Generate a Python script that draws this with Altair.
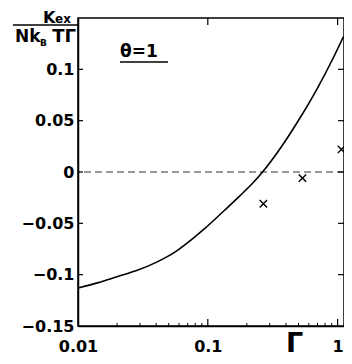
import altair as alt
import pandas as pd

# curve (Gamma vs K_ex / N k_B T Gamma)
curve_x = [0.01, 0.0141, 0.0200, 0.0283, 0.0400, 0.0565, 0.0798, 0.0949, 0.134, 0.174, 0.225,
           0.264, 0.348, 0.527, 0.695, 0.933, 1.11]
curve_y = [-0.113, -0.108, -0.102, -0.096, -0.088, -0.0775, -0.063, -0.055, -0.0375, -0.024, -0.010,
           0.0, 0.020, 0.055, 0.081, 0.112, 0.132]

# simulation points (crosses)
pts_x = [0.268, 0.536, 1.07]
pts_y = [-0.031, -0.006, 0.022]

x_ticks = [0.01, 0.1, 1]
y_ticks = [-0.15, -0.1, -0.05, 0, 0.05, 0.1]
minor_x = [0.02, 0.03, 0.04, 0.05, 0.06, 0.07, 0.08, 0.09, 0.2, 0.3, 0.4, 0.5, 0.6, 0.7, 0.8, 0.9]
major_x = [0.1, 1]
side_y = [-0.1, -0.05, 0, 0.05, 0.1]

XMIN, XMAX = 0.01, 1.12
YMIN, YMAX = -0.15, 0.15
FONT = "DejaVu Sans"

xs = alt.Scale(type="log", domain=[XMIN, XMAX], nice=False)
ys = alt.Scale(domain=[YMIN, YMAX], nice=False, zero=False)

curve_df = pd.DataFrame({"g": curve_x, "k": curve_y})
pts_df = pd.DataFrame({"g": pts_x, "k": pts_y})

base_axes = alt.Chart(curve_df).mark_line(
    color="black", strokeWidth=1.6, interpolate="monotone"
).encode(
    x=alt.X("g:Q", scale=xs, axis=alt.Axis(values=x_ticks, format="~g", title=None,
                                           labelPadding=12, labelBaseline="top",
                                           labelFlush=False)),
    y=alt.Y("k:Q", scale=ys, axis=alt.Axis(values=y_ticks, format=".2~f", title=None,
                                           labelPadding=4, labelFlush=False)),
)

zero_line = alt.Chart(pd.DataFrame({"z": [0]})).mark_rule(
    color="#333", strokeDash=[7, 4], strokeWidth=1
).encode(y=alt.Y("z:Q", scale=ys))

crosses = alt.Chart(pts_df).mark_point(
    shape="M-1,-1L1,1M1,-1L-1,1", size=55, filled=False, color="black",
    strokeWidth=1.4, opacity=1
).encode(x=alt.X("g:Q", scale=xs), y=alt.Y("k:Q", scale=ys))

minor_df = pd.DataFrame({"v": minor_x})
major_df = pd.DataFrame({"v": major_x})
side_df = pd.DataFrame({"v": side_y})

bottom_minor = alt.Chart(minor_df).mark_rule(color="black", strokeWidth=1, y2Offset=-3).encode(
    x=alt.X("v:Q", scale=xs), y=alt.datum(YMIN, scale=ys), y2=alt.datum(YMIN))
bottom_major = alt.Chart(major_df).mark_rule(color="black", strokeWidth=1.2, y2Offset=-7).encode(
    x=alt.X("v:Q", scale=xs), y=alt.datum(YMIN, scale=ys), y2=alt.datum(YMIN))
top_major = alt.Chart(major_df).mark_rule(color="black", strokeWidth=1.2, y2Offset=7).encode(
    x=alt.X("v:Q", scale=xs), y=alt.datum(YMAX, scale=ys), y2=alt.datum(YMAX))
left_ticks = alt.Chart(side_df).mark_rule(color="black", strokeWidth=1.2, x2Offset=5).encode(
    y=alt.Y("v:Q", scale=ys), x=alt.datum(XMIN, scale=xs), x2=alt.datum(XMIN))
right_ticks = alt.Chart(side_df).mark_rule(color="black", strokeWidth=1.2, x2Offset=-6).encode(
    y=alt.Y("v:Q", scale=ys), x=alt.datum(XMAX, scale=xs), x2=alt.datum(XMAX))

def label(txt, px, py, size, align="left", baseline="alphabetic"):
    return alt.Chart(pd.DataFrame({"t": [txt]})).mark_text(
        font=FONT, fontWeight="bold", fontSize=size, align=align, baseline=baseline, color="black"
    ).encode(text="t:N", x=alt.value(px), y=alt.value(py))

k_lab = label("K", -35, 4.5, 16)
ex_lab = label("ex", -23, 4.5, 12)
nk_lab = label("Nk", -63, 24, 17)
b_lab = label("B", -38, 28, 9)
tg_lab = label("TΓ", -2, 24, 18, align="right")
theta_lab = label("θ=1", 42, 39, 17)
gamma_lab = label("Γ", 208, 334, 27)

frac_line = alt.Chart(pd.DataFrame({"a": [0]})).mark_rule(color="black", strokeWidth=1.5).encode(
    x=alt.value(-65), x2=alt.value(0), y=alt.value(7))
theta_line = alt.Chart(pd.DataFrame({"a": [0]})).mark_rule(color="black", strokeWidth=1.5).encode(
    x=alt.value(42), x2=alt.value(90), y=alt.value(44))

chart = alt.layer(
    zero_line, base_axes, crosses, bottom_minor, bottom_major, top_major, left_ticks, right_ticks,
    k_lab, ex_lab, nk_lab, b_lab, tg_lab, theta_lab, gamma_lab, frac_line, theta_line,
).properties(
    width=266, height=308, autosize="none",
    padding={"left": 70, "top": 10, "right": 0, "bottom": 30},
).configure_view(stroke="black", strokeWidth=1.5).configure_axis(
    labelFont=FONT, labelFontWeight="bold", labelFontSize=16, labelColor="black",
    domainColor="black", domainWidth=1.5, ticks=False, tickSize=0, grid=False,
)

chart.save("out.html", embed_options={"renderer": "svg", "actions": False})
